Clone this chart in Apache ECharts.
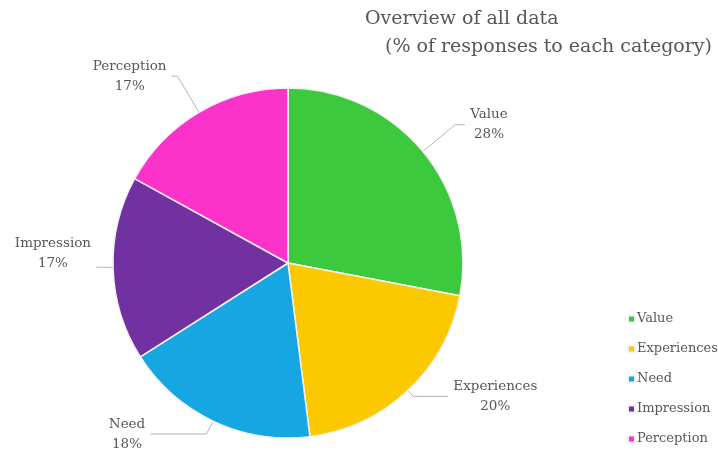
<!DOCTYPE html>
<html><head><meta charset="utf-8">
<script src="https://cdn.jsdelivr.net/npm/echarts@6/dist/echarts.min.js"></script>
<style>html,body{margin:0;padding:0;background:#fff}#c{width:718px;height:452px}</style>
</head><body><div id="c"></div>
<script>
const categories = ['Value', 'Experiences', 'Need', 'Impression', 'Perception'];
const values = [28, 20, 18, 17, 17];
const colors = ['#3dc93d', '#fcc800', '#16a7e2', '#7231a0', '#fc32cb'];
const titleLines = ['Overview of all data', '(% of responses to each category)'];

// leader line lengths per slice (styling, not data)
const leadLen = [42, 8, 17, 8, 42];
const leadLen2 = [10, 35, 56, 14, 6];
const labelShiftY = [0, 0, 0, -14, 0];

const chart = echarts.init(document.getElementById('c'));
const serif = 'DejaVu Serif';
const txt = '#575757';
chart.setOption({
  animation: false,
  title: [
    { text: titleLines[0], left: 360, top: 5, padding: 5, textStyle: { fontFamily: serif, fontWeight: 'normal', fontSize: 19, color: txt } },
    { text: titleLines[1], left: 380, top: 33, padding: 5, textStyle: { fontFamily: serif, fontWeight: 'normal', fontSize: 19, color: txt } }
  ],
  color: colors,
  legend: {
    orient: 'vertical', left: 627, top: 312, padding: 0, itemGap: 16, itemWidth: 7, itemHeight: 7, icon: 'rect',
    textStyle: { fontFamily: serif, fontSize: 13, lineHeight: 14, color: txt, padding: [0, 0, 0, -3] },
    data: categories
  },
  series: [{
    type: 'pie', center: [288, 263], radius: 175, startAngle: 90, clockwise: true,
    itemStyle: { borderColor: '#f2f2f2', borderWidth: 1.5 },
    label: {
      formatter: '{n|{b}}\n{n|{d}%}',
      rich: { n: { align: 'center', fontFamily: serif, fontSize: 13.5, lineHeight: 20, color: txt } }
    },
    labelLine: { lineStyle: { color: '#b5b5b5', width: 1 } },
    labelLayout: function (p) { return labelShiftY[p.dataIndex] ? { dy: labelShiftY[p.dataIndex] } : {}; },
    data: categories.map((c, i) => ({
      name: c, value: values[i],
      labelLine: { length: leadLen[i], length2: leadLen2[i] }
    }))
  }]
});
</script></body></html>
